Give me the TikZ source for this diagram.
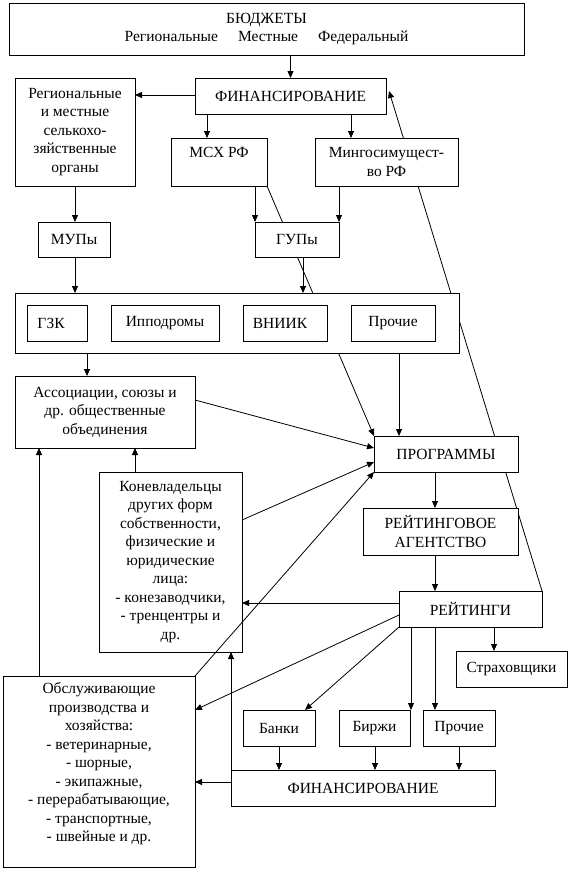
\documentclass[tikz,border=0pt]{standalone}
\usepackage{fontspec}
\setmainfont{Liberation Serif}
\usetikzlibrary{arrows.meta,backgrounds}
\begin{document}
\begin{tikzpicture}[x=1pt,y=-1pt,
  box/.style={draw,line width=1pt,fill=white,inner sep=0pt,outer sep=0pt,align=center,font=\fontsize{15.5}{18.5}\selectfont},
  arr/.style={line width=0.8pt,-{Triangle[length=7pt,width=6pt]}}]
\useasboundingbox (0,0) rectangle (570,870);
% nodes
\node[box,minimum width=515pt,minimum height=52pt] (bud) at (266.5,29) {БЮДЖЕТЫ\\Региональные\hspace{20pt}Местные\hspace{20pt}Федеральный};
\node[box,minimum width=191pt,minimum height=36pt] (fin) at (290.5,96) {ФИНАНСИРОВАНИЕ};
\node[box,minimum width=120pt,minimum height=108pt] (reg) at (75,132) {Региональные\\и местные\\селькохо-\\зяйственные\\органы};
\node[box,minimum width=96pt,minimum height=48pt] (msx) at (219,162) {МСХ РФ\\~};
\node[box,minimum width=143pt,minimum height=48pt] (ming) at (386.5,162) {Мингосимущест-\\во РФ};
\node[box,minimum width=72pt,minimum height=35pt] (mup) at (74,239.5) {МУПы};
\node[box,minimum width=84pt,minimum height=35pt] (gup) at (297,239.5) {ГУПы};
\node[box,minimum width=444pt,minimum height=60pt] (big) at (237,323) {};
\node[box,minimum width=60pt,minimum height=36pt] (gzk) at (57,323) {\hspace*{-12pt}ГЗК};
\node[box,minimum width=108pt,minimum height=36pt] (ipp) at (165,323) {Ипподромы};
\node[box,minimum width=84pt,minimum height=36pt] (vniik) at (285,323) {\hspace*{-10pt}ВНИИК};
\node[box,minimum width=84pt,minimum height=36pt] (proch1) at (393,323) {Прочие};
\node[box,minimum width=180pt,minimum height=72pt] (assoc) at (105,412) {Ассоциации, союзы и\\др. общественные\\объединения};
\node[box,minimum width=144pt,minimum height=36pt] (prog) at (446,454) {ПРОГРАММЫ};
\node[box,minimum width=155pt,minimum height=47pt] (ra) at (440.5,531.5) {РЕЙТИНГОВОЕ\\АГЕНТСТВО};
\node[box,minimum width=143pt,minimum height=180pt] (konev) at (170.5,562) {Коневладельцы\\других форм\\собственности,\\физические и\\юридические\\лица:\\- конезаводчики,\\- тренцентры и\\др.};
\node[box,minimum width=143pt,minimum height=36pt] (rat) at (470.5,609) {РЕЙТИНГИ};
\node[box,minimum width=111pt,minimum height=36pt] (strah) at (511.5,669) {Страховщики};
\node[box,minimum width=192pt,minimum height=191pt] (obsl) at (99,771.5) {Обслуживающие\\производства и\\хозяйства:\\- ветеринарные,\\- шорные,\\- экипажные,\\- перерабатывающие,\\- транспортные,\\- швейные и др.\\~};
\node[box,minimum width=72pt,minimum height=36pt] (banki) at (279,728) {Банки};
\node[box,minimum width=71pt,minimum height=36pt] (birzhi) at (374.5,728) {Биржи};
\node[box,minimum width=72pt,minimum height=36pt] (proch2) at (459,728) {Прочие};
\node[box,minimum width=264pt,minimum height=36pt] (fin2) at (363,788) {ФИНАНСИРОВАНИЕ};
\coordinate (finin) at (389,91);
% hidden lines (behind boxes)
\begin{scope}[on background layer]
\draw[arr] (msx.south east) -- (prog.north west);
\draw[arr] (rat.north east) -- (finin);
\end{scope}
% arrows
\draw[arr] (bud.south -| fin.north) -- (fin.north);
\draw[arr] (fin.west |- 0,95) -- (reg.east |- 0,95);
\draw[arr] (fin.south -| 207,0) -- (msx.north -| 207,0);
\draw[arr] (fin.south -| 351,0) -- (ming.north -| 351,0);
\draw[arr] (reg.south -| 75,0) -- (mup.north -| 75,0);
\draw[arr] (msx.south -| gup.west) -- (gup.north west);
\draw[arr] (ming.south -| gup.east) -- (gup.north east);
\draw[arr] (mup.south -| 75,0) -- (big.north -| 75,0);
\draw[arr] (gup.south -| 303,0) -- (big.north -| 303,0);
\draw[arr] (big.south -| 87,0) -- (assoc.north -| 87,0);
\draw[arr] (big.south -| 399,0) -- (prog.north -| 399,0);
\draw[arr] (assoc.east |- 0,400) -- (prog.west |- 0,448);
\draw[arr] (konev.east |- 0,520) -- (prog.west |- 0,462);
\draw[arr] (obsl.north east) -- (prog.south west);
\draw[arr] (konev.north -| 135,0) -- (assoc.south -| 135,0);
\draw[arr] (obsl.north -| 39,0) -- (assoc.south -| 39,0);
\draw[arr] (prog.south -| 435,0) -- (ra.north -| 435,0);
\draw[arr] (ra.south -| 435,0) -- (rat.north -| 435,0);
\draw[arr] (rat.west |- 0,603) -- (konev.east |- 0,603);
\draw[arr] (rat.south -| 494,0) -- (strah.north -| 494,0);
\draw[arr] (rat.west |- 0,615) -- (obsl.east |- 0,710);
\draw[arr] (rat.south west) -- (banki.north -| 305,0);
\draw[arr] (rat.south -| 411,0) -- (birzhi.north -| 411,0);
\draw[arr] (rat.south -| 435,0) -- (proch2.north -| 435,0);
\draw[arr] (banki.south -| 279,0) -- (fin2.north -| 279,0);
\draw[arr] (birzhi.south -| 375,0) -- (fin2.north -| 375,0);
\draw[arr] (proch2.south -| 459,0) -- (fin2.north -| 459,0);
\draw[arr] (fin2.west |- 0,782) -- (obsl.east |- 0,782);
\draw[arr] (fin2.north west) -- (konev.south -| fin2.north west);
\end{tikzpicture}
\end{document}
